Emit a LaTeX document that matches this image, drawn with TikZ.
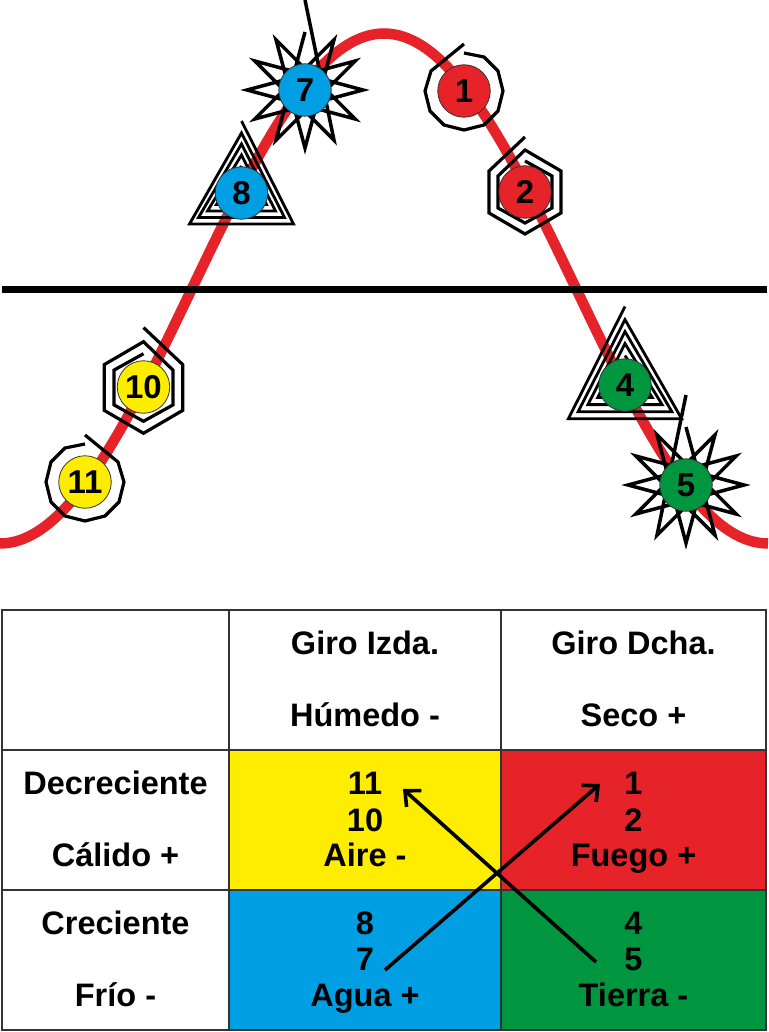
\documentclass[tikz,border=0pt]{standalone}
\usepackage{fontspec}
\setmainfont{Liberation Sans}
\usetikzlibrary{arrows.meta}
\definecolor{cellred}{HTML}{E52329}
\definecolor{cellyellow}{HTML}{FFED00}
\definecolor{cellblue}{HTML}{009FE3}
\definecolor{cellgreen}{HTML}{009640}
\tikzset{
  turnline/.style={draw=black, line width=3.2pt},
  stage/.style={circle, draw=black!80, line width=0.8pt, minimum size=52.5pt, inner sep=0pt, font=\fontsize{33}{33}\selectfont\bfseries},
  cellbox/.style={draw=black!80, line width=1.6pt, inner sep=0pt, minimum height=140pt},
  celltext/.style={anchor=base, inner sep=0pt, font=\fontsize{32.5}{32.5}\selectfont\bfseries},
  crossarrow/.style={line width=3.6pt, -{Straight Barb[length=12pt, width=22pt, line width=3.6pt]}},
  ringturn/.pic={
    \draw[turnline] (0,-47) -- (-33,-20) -- (-39,0) -- (-34,20) -- (-20,34) -- (0,39) -- (20,34) -- (34,20) -- (39,0) -- (34,-20) -- (20,-34) -- (0,-38);
  },
  hexturn/.pic={
    \draw[turnline] (0,-55) -- (-36,-21) -- (-36,21) -- (0,42) -- (36,21) -- (36,-21) -- (0,-42) -- (-27,-16) -- (-27,16) -- (0,31) -- (27,16) -- (27,-16) -- (0,-31);
  },
  triturn/.pic={
    \draw[turnline, line width=2.8pt] (0,-72) -- (52,31) -- (-52,31) -- (0,-60) -- (43,24.5) -- (-43,24.5) -- (0,-49) -- (34,18) -- (-34,18) -- (0,-38) -- (25,11.5) -- (-25,11.5) -- (0,-27);
  },
  starturn/.pic={
    \draw[turnline, line width=3.5pt] (0,-58) \foreach \k in {1,...,11} { -- ({270-150*\k}:58) } -- (0,-90);
  }
}

\begin{document}
\begin{tikzpicture}[x=1pt, y=-1pt]
    \useasboundingbox (0,0) rectangle (768,1032);

    % Red wave and horizon
    \draw[cellred, line width=10.5pt] plot[smooth, domain=0:768, samples=97] (\x, {288.5-255*cos(0.46875*(\x-384))});
    \coordinate (horizonL) at (2,289);
    \coordinate (horizonR) at (767,289);
    \draw[line width=7pt] (horizonL) -- (horizonR);

    % Turn symbols round the stages
    \pic at (464,91) {ringturn};
    \pic at (525,192) {hexturn};
    \pic[xscale=-1.09, yscale=1.09] at (625,385) {triturn};
    \pic[xscale=-1] at (686,485) {starturn};
    \pic at (305,90) {starturn};
    \pic at (241.5,193) {triturn};
    \pic[xscale=-1.09, yscale=1.09] at (143.5,387.5) {hexturn};
    \pic[xscale=-1] at (85,482) {ringturn};

    % Numbered stages
    \node[stage, fill=cellred] (stage1) at (464,91) {1};
    \node[stage, fill=cellred] (stage2) at (525,192) {2};
    \node[stage, fill=cellgreen] (stage4) at (625,385) {4};
    \node[stage, fill=cellgreen] (stage5) at (686,485) {5};
    \node[stage, fill=cellblue] (stage7) at (305,90) {7};
    \node[stage, fill=cellblue] (stage8) at (241.5,193) {8};
    \node[stage, fill=cellyellow] (stage10) at (143.5,387) {10};
    \node[stage, fill=cellyellow] (stage11) at (85,482) {11};

    % Table cells
    \node[cellbox, minimum width=227pt, fill=white] (cellCorner) at (115.5,680) {};
    \node[cellbox, minimum width=272pt, fill=white] (cellLeftTurn) at (365,680) {};
    \node[cellbox, minimum width=265pt, fill=white] (cellRightTurn) at (633.5,680) {};
    \node[cellbox, minimum width=227pt, fill=white] (cellWaning) at (115.5,820) {};
    \node[cellbox, minimum width=272pt, fill=cellyellow] (cellAire) at (365,820) {};
    \node[cellbox, minimum width=265pt, fill=cellred] (cellFuego) at (633.5,820) {};
    \node[cellbox, minimum width=227pt, fill=white] (cellWaxing) at (115.5,960) {};
    \node[cellbox, minimum width=272pt, fill=cellblue] (cellAgua) at (365,960) {};
    \node[cellbox, minimum width=265pt, fill=cellgreen] (cellTierra) at (633.5,960) {};

    % Table texts
    \node[celltext] (giroIzda) at (365,654.5) {Giro Izda.};
    \node[celltext] (humedo) at (365,726.5) {Húmedo -};
    \node[celltext] (giroDcha) at (633.5,654.5) {Giro Dcha.};
    \node[celltext] (seco) at (633.5,726.5) {Seco +};
    \node[celltext] (decreciente) at (115.5,794.5) {Decreciente};
    \node[celltext] (calido) at (115.5,866) {Cálido +};
    \node[celltext] (creciente) at (115.5,934) {Creciente};
    \node[celltext] (frio) at (115.5,1006.5) {Frío -};
    \node[celltext] (aire11) at (365,794.5) {11};
    \node[celltext] (aire10) at (365,831) {10};
    \node[celltext] (aire) at (365,866.5) {Aire -};
    \node[celltext] (fuego1) at (633.5,794.5) {1};
    \node[celltext] (fuego2) at (633.5,831) {2};
    \node[celltext] (fuego) at (633.5,866.5) {Fuego +};
    \node[celltext] (agua8) at (365,934) {8};
    \node[celltext] (agua7) at (365,970.5) {7};
    \node[celltext] (agua) at (365,1006.5) {Agua +};
    \node[celltext] (tierra4) at (633.5,934) {4};
    \node[celltext] (tierra5) at (633.5,970.5) {5};
    \node[celltext] (tierra) at (633.5,1006.5) {Tierra -};

    % Crossing arrows
    \coordinate (riseFrom) at (385,970);
    \coordinate (riseTo) at (600,784);
    \coordinate (fallFrom) at (596,962);
    \coordinate (fallTo) at (403,789);
    \draw[crossarrow] (riseFrom) -- (riseTo);
    \draw[crossarrow] (fallFrom) -- (fallTo);
\end{tikzpicture}
\end{document}
